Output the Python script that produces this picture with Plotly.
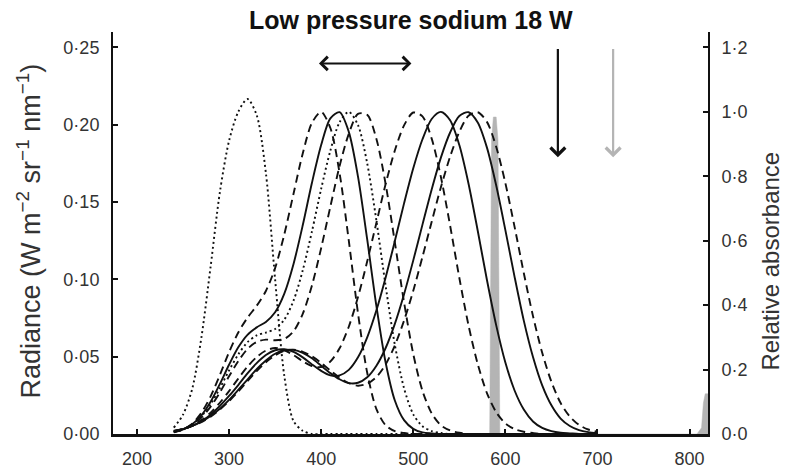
import plotly.graph_objects as go

# Wavelength grid (nm) shared by all pigment absorbance curves
wavelength_nm = [240, 250, 260, 270, 280, 290, 300, 310, 320, 330,
                 340, 350, 360, 370, 380, 390, 400, 410, 420, 430,
                 440, 450, 460, 470, 480, 490, 500, 510, 520, 530,
                 540, 550, 560, 570, 580, 590, 600, 610, 620, 630,
                 640, 650, 660, 670, 680, 690, 700]

# Relative absorbance of each visual pigment
abs_uv_dotted = [0.02, 0.06, 0.14, 0.30, 0.52, 0.75, 0.91, 1.00, 1.04, 0.99,
                 0.81, 0.48, 0.18, 0.04, 0.01, 0, 0, 0, 0, 0,
                 0, 0, 0, 0, 0, 0, 0, 0, 0, 0,
                 0, 0, 0, 0, 0, 0, 0, 0, 0, 0,
                 0, 0, 0, 0, 0, 0, 0]
abs_400_dashed = [0.005, 0.014, 0.032, 0.066, 0.117, 0.183, 0.254, 0.315, 0.361, 0.398,
                  0.444, 0.515, 0.620, 0.746, 0.871, 0.966, 1.0, 0.95, 0.81, 0.60,
                  0.375, 0.19, 0.077, 0.027, 0.009, 0.003, 0, 0, 0, 0,
                  0, 0, 0, 0, 0, 0, 0, 0, 0, 0,
                  0, 0, 0, 0, 0, 0, 0]
abs_418_solid = [0.006, 0.014, 0.030, 0.058, 0.100, 0.155, 0.215, 0.269, 0.308, 0.331,
                 0.348, 0.378, 0.436, 0.528, 0.648, 0.780, 0.897, 0.980, 0.999, 0.938,
                 0.799, 0.604, 0.397, 0.222, 0.104, 0.043, 0.016, 0.005, 0.002, 0,
                 0, 0, 0, 0, 0, 0, 0, 0, 0, 0,
                 0, 0, 0, 0, 0, 0, 0]
abs_430_dotted = [0.006, 0.014, 0.029, 0.055, 0.093, 0.142, 0.197, 0.247, 0.285, 0.306,
                  0.315, 0.326, 0.355, 0.414, 0.508, 0.629, 0.761, 0.880, 0.968, 1.0,
                  0.959, 0.840, 0.662, 0.460, 0.277, 0.142, 0.061, 0.024, 0.009, 0.003,
                  0, 0, 0, 0, 0, 0, 0, 0, 0, 0,
                  0, 0, 0, 0, 0, 0, 0]
abs_445_dashed = [0.006, 0.014, 0.028, 0.051, 0.085, 0.129, 0.179, 0.226, 0.264, 0.286,
                  0.293, 0.291, 0.295, 0.319, 0.373, 0.461, 0.577, 0.706, 0.832, 0.932,
                  0.994, 0.991, 0.916, 0.776, 0.595, 0.409, 0.248, 0.134, 0.064, 0.027,
                  0.011, 0.004, 0, 0, 0, 0, 0, 0, 0, 0,
                  0, 0, 0, 0, 0, 0, 0]
abs_503_dashed = [0.008, 0.015, 0.026, 0.043, 0.066, 0.097, 0.133, 0.172, 0.209, 0.239,
                  0.259, 0.267, 0.260, 0.245, 0.226, 0.211, 0.208, 0.225, 0.266, 0.333,
                  0.425, 0.536, 0.656, 0.776, 0.880, 0.958, 0.998, 0.986, 0.917, 0.798,
                  0.647, 0.485, 0.337, 0.217, 0.127, 0.068, 0.033, 0.015, 0.007, 0.003,
                  0, 0, 0, 0, 0, 0, 0]
abs_530_solid = [0.009, 0.015, 0.025, 0.040, 0.060, 0.087, 0.118, 0.152, 0.188, 0.220,
                 0.245, 0.260, 0.263, 0.255, 0.238, 0.216, 0.196, 0.182, 0.182, 0.199,
                 0.238, 0.300, 0.384, 0.486, 0.599, 0.716, 0.825, 0.915, 0.978, 1.0,
                 0.974, 0.897, 0.777, 0.631, 0.478, 0.338, 0.222, 0.135, 0.076, 0.039,
                 0.019, 0.009, 0.004, 0.002, 0, 0, 0]
abs_558_solid = [0.009, 0.015, 0.025, 0.038, 0.056, 0.078, 0.106, 0.137, 0.169, 0.201,
                 0.228, 0.249, 0.260, 0.261, 0.252, 0.235, 0.212, 0.189, 0.170, 0.158,
                 0.159, 0.176, 0.212, 0.267, 0.342, 0.434, 0.539, 0.650, 0.759, 0.858,
                 0.936, 0.987, 0.999, 0.967, 0.889, 0.772, 0.633, 0.488, 0.352, 0.239,
                 0.151, 0.089, 0.048, 0.025, 0.012, 0.006, 0.003]
abs_568_dashed = [0.010, 0.016, 0.025, 0.037, 0.054, 0.076, 0.102, 0.132, 0.164, 0.195,
                  0.223, 0.244, 0.258, 0.262, 0.255, 0.241, 0.221, 0.197, 0.175, 0.158,
                  0.150, 0.156, 0.177, 0.216, 0.275, 0.352, 0.445, 0.550, 0.659, 0.766,
                  0.861, 0.938, 0.988, 0.999, 0.969, 0.892, 0.779, 0.643, 0.500, 0.366,
                  0.252, 0.162, 0.096, 0.054, 0.028, 0.014, 0.007]

# Low pressure sodium lamp emission (W m-2 sr-1 nm-1)
sodium_nm = [570, 583, 585, 587, 590, 592, 594, 605, 808, 813, 815, 817, 820]
sodium_radiance = [0, 0, 0.19, 0.205, 0.205, 0.19, 0, 0, 0, 0.004, 0.02, 0.026, 0.026]

# Axis ticks
x_ticks = [200, 300, 400, 500, 600, 700, 800]
left_ticks = [0, 0.05, 0.10, 0.15, 0.20, 0.25]
left_labels = ["0·00", "0·05", "0·10", "0·15", "0·20", "0·25"]
right_ticks = [0, 0.2, 0.4, 0.6, 0.8, 1.0, 1.2]
right_labels = ["0·0", "0·2", "0·4", "0·6", "0·8", "1·0", "1·2"]

# Arrow positions (nm, radiance)
span_arrow = dict(x_from=396, x_to=498, y=0.2397)
black_arrow = dict(x=657, y_from=0.25, y_to=0.179)
grey_arrow = dict(x=717, y_from=0.25, y_to=0.179)

FONT = "Liberation Sans, Arial, Helvetica, sans-serif"
DASH = "8px,5px"
DOT = "2px,3px"

fig = go.Figure()

fig.add_trace(go.Scatter(
    x=sodium_nm, y=sodium_radiance, mode="lines", fill="tozeroy",
    line=dict(color="#b4b4b4", width=0.5), fillcolor="#b4b4b4",
    yaxis="y", hoverinfo="skip", showlegend=False))

curves = [
    (abs_uv_dotted, DOT),
    (abs_400_dashed, DASH),
    (abs_418_solid, "solid"),
    (abs_430_dotted, DOT),
    (abs_445_dashed, DASH),
    (abs_503_dashed, DASH),
    (abs_530_solid, "solid"),
    (abs_558_solid, "solid"),
    (abs_568_dashed, DASH),
]
for values, dash in curves:
    fig.add_trace(go.Scatter(
        x=wavelength_nm, y=values, mode="lines", yaxis="y2",
        line=dict(color="#111111", width=1.9, dash=dash, shape="spline", smoothing=0.8),
        showlegend=False))

axis_common = dict(
    showgrid=False, zeroline=False, showline=True, linecolor="#111111",
    ticks="inside", ticklen=5, tickwidth=1.5, tickcolor="#111111",
    tickfont=dict(family=FONT, size=18, color="#333333"), automargin=False)

fig.update_layout(
    template="none",
    width=787, height=472,
    margin=dict(l=113, r=79, t=32, b=38),
    paper_bgcolor="white", plot_bgcolor="white",
    showlegend=False,
    xaxis=dict(range=[174, 820], tickvals=x_ticks, linewidth=3,
               ticklabelstandoff=6, **axis_common),
    yaxis=dict(range=[0, 0.26], tickvals=left_ticks, ticktext=left_labels,
               linewidth=2, ticklabelstandoff=8, **axis_common),
    yaxis2=dict(range=[0, 1.248], tickvals=right_ticks, ticktext=right_labels,
                overlaying="y", side="right", linewidth=2, ticklabelstandoff=8,
                **axis_common),
)

annotations = [
    dict(text="<b>Low pressure sodium 18 W</b>", xref="paper", yref="paper",
         x=0.5, y=1.029, xanchor="center", yanchor="middle", showarrow=False,
         font=dict(family=FONT, size=25, color="#111111")),
    dict(text="Radiance (W m<sup>−2</sup> sr<sup>−1</sup> nm<sup>−1</sup>)",
         xref="paper", yref="paper", x=-0.142, y=0.505, textangle=-90,
         xanchor="center", yanchor="middle", showarrow=False,
         font=dict(family=FONT, size=27, color="#333333")),
    dict(text="Relative absorbance", xref="paper", yref="paper", x=1.105, y=0.43,
         textangle=-90, xanchor="center", yanchor="middle", showarrow=False,
         font=dict(family=FONT, size=24, color="#333333")),
    dict(x=span_arrow["x_to"], y=span_arrow["y"], ax=span_arrow["x_from"], ay=span_arrow["y"],
         xref="x", yref="y", axref="x", ayref="y", text="", showarrow=True,
         arrowhead=4, startarrowhead=4, arrowside="end+start", arrowsize=1.3,
         startarrowsize=1.3, arrowwidth=2, arrowcolor="#111111"),
    dict(x=black_arrow["x"], y=black_arrow["y_to"], ax=black_arrow["x"], ay=black_arrow["y_from"],
         xref="x", yref="y", axref="x", ayref="y", text="", showarrow=True,
         arrowhead=4, arrowsize=1.3, arrowwidth=2.2, arrowcolor="#111111"),
    dict(x=grey_arrow["x"], y=grey_arrow["y_to"], ax=grey_arrow["x"], ay=grey_arrow["y_from"],
         xref="x", yref="y", axref="x", ayref="y", text="", showarrow=True,
         arrowhead=4, arrowsize=1.3, arrowwidth=2.2, arrowcolor="#b4b4b4"),
]
fig.update_layout(annotations=annotations)

fig.write_html("out.html")
